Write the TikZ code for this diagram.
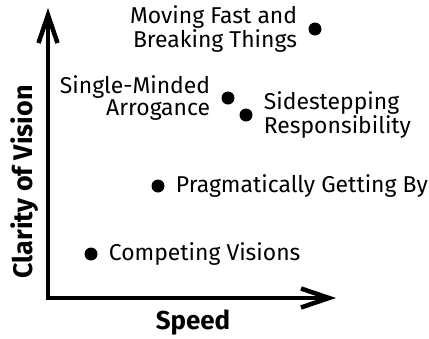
\documentclass[tikz,border=0pt]{standalone}
\usepackage{fontspec}
\setmainfont{Fira Sans}
\usetikzlibrary{positioning,arrows.meta}
\begin{document}
\begin{tikzpicture}[x=1bp, y=-1bp,
  every node/.style={font=\fontsize{23}{22}\selectfont, inner sep=0pt},
  dot/.style={circle, fill=black, minimum size=13bp},
  lbl/.style={align=left},
  lblr/.style={align=right},
  axlabel/.style={font=\fontsize{26}{28}\selectfont\bfseries},
  axarrow/.style={line width=4.5bp, line join=miter,
    {Straight Barb[length=28bp, width=19bp, line join=miter]}-{Straight Barb[length=28bp, width=19bp, line join=miter]}}]
\useasboundingbox (0,0) rectangle (429,339);
% Axes
\coordinate (origin) at (48,298);
\coordinate (xtip) at (336,298);
\coordinate (ytip) at (48,8);
\draw[axarrow] (ytip) -- (origin) -- (xtip);
\node[axlabel] (speed) at (193,323) {Speed};
\node[axlabel, font=\fontsize{27}{28}\selectfont\bfseries, rotate=90] (clarity) at (25,182) {Clarity of Vision};
% Points
\node[dot] (fast) at (315,29) {};
\node[dot] (single) at (228,98) {};
\node[dot] (side) at (246,115) {};
\node[dot] (prag) at (158,186) {};
\node[dot] (comp) at (91,254) {};
% Labels
\node[lblr, left=11bp of fast] (fastlbl) {Moving Fast and\\Breaking Things};
\node[lblr, left=11bp of single] (singlelbl) {Single-Minded\\Arrogance};
\node[lbl, right=11bp of side] (sidelbl) {Sidestepping\\Responsibility};
\node[lbl, right=11bp of prag] (praglbl) {Pragmatically Getting By};
\node[lbl, right=11bp of comp] (complbl) {Competing Visions};
\end{tikzpicture}
\end{document}
